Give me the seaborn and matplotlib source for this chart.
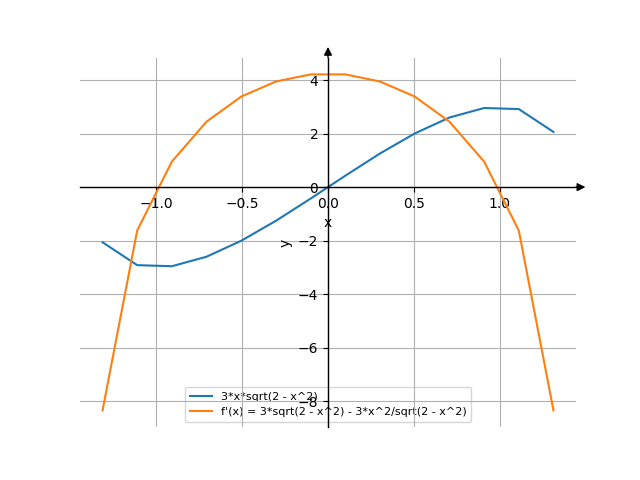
import matplotlib
matplotlib.use("Agg")
import matplotlib.pyplot as plt
import seaborn as sns
import pandas as pd

x_vals = [-1.314, -1.112, -0.910, -0.708, -0.505, -0.303, -0.101,
          0.101, 0.303, 0.505, 0.708, 0.910, 1.112, 1.314]
f_vals = [-2.061, -2.915, -2.955, -2.600, -2.001, -1.256, -0.427,
          0.427, 1.256, 2.001, 2.600, 2.955, 2.915, 2.061]
df_vals = [-8.34, -1.62, 0.953, 2.444, 3.384, 3.945, 4.210,
           4.210, 3.945, 3.384, 2.444, 0.953, -1.62, -8.34]
labels = ["3*x*sqrt(2 - x^2)", "f'(x) = 3*sqrt(2 - x^2) - 3*x^2/sqrt(2 - x^2)"]

data = pd.DataFrame({
    "x": x_vals * 2,
    "y": f_vals + df_vals,
    "series": [labels[0]] * len(x_vals) + [labels[1]] * len(x_vals),
})

fig, ax = plt.subplots(figsize=(6.4, 4.8), dpi=100)
sns.lineplot(data=data, x="x", y="y", hue="series", estimator=None, sort=False,
             palette=["#1f77b4", "#ff7f0e"], ax=ax)

ax.spines["left"].set_position("zero")
ax.spines["bottom"].set_position("zero")
ax.spines["right"].set_visible(False)
ax.spines["top"].set_visible(False)
ax.spines["left"].set_linewidth(1.0)
ax.spines["bottom"].set_linewidth(1.0)
ax.xaxis.set_ticks_position("bottom")
ax.yaxis.set_ticks_position("left")
ytr = ax.get_yaxis_transform()
xtr = ax.get_xaxis_transform()
ax.annotate("", xy=(1.019, 0), xycoords=ytr, xytext=(1.0, 0), textcoords=ytr,
            arrowprops=dict(arrowstyle="-|>", color="k", lw=1.0,
                            mutation_scale=12, shrinkA=0, shrinkB=0),
            annotation_clip=False)
ax.annotate("", xy=(0, 1.029), xycoords=xtr, xytext=(0, 1.0), textcoords=xtr,
            arrowprops=dict(arrowstyle="-|>", color="k", lw=1.0,
                            mutation_scale=12, shrinkA=0, shrinkB=0),
            annotation_clip=False)
ax.grid(True)
ax.set_xlabel("x")
ax.set_ylabel("y")
leg = ax.legend(loc="lower center", fontsize=8)
leg.set_zorder(1)
fig.savefig("out.png", dpi=100)
